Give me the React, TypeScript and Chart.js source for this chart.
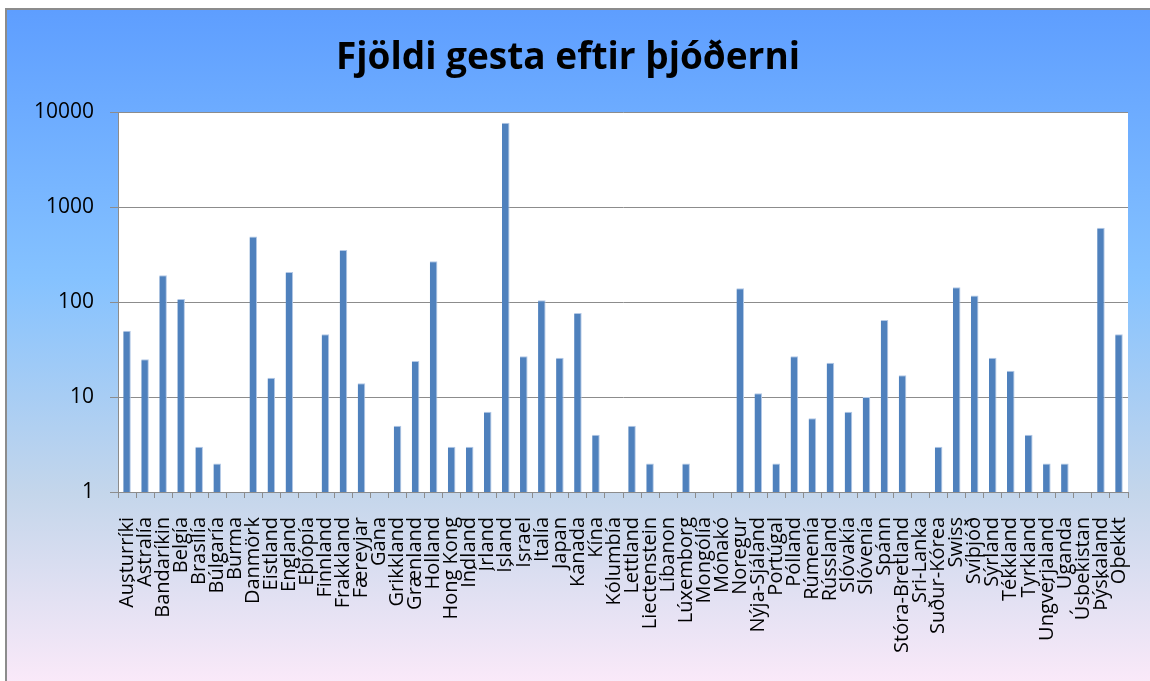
import React, { useEffect, useRef } from "react";
import { Chart, registerables } from "chart.js";

Chart.register(...registerables);

const categories = [
  "Austurríki", "Ástralía", "Bandaríkin", "Belgía", "Brasilía", "Búlgaría", "Búrma",
  "Danmörk", "Eistland", "England", "Eþíópía", "Finnland", "Frakkland", "Færeyjar",
  "Gana", "Grikkland", "Grænland", "Holland", "Hong Kong", "Indland", "Írland",
  "Ísland", "Ísrael", "Ítalía", "Japan", "Kanada", "Kína", "Kólumbía", "Lettland",
  "Liectenstein", "Líbanon", "Lúxemborg", "Mongólía", "Mónakó", "Noregur",
  "Nýja-Sjáland", "Portúgal", "Pólland", "Rúmenía", "Rússland", "Slóvakía",
  "Slóvenía", "Spánn", "Stóra-Bretland", "Sri-Lanka", "Suður-Kórea", "Swiss",
  "Svíþjóð", "Sýrland", "Tékkland", "Tyrkland", "Ungverjaland", "Úganda",
  "Úsbekistan", "Þýskaland", "Óþekkt",
];

const visitors: (number | null)[] = [
  50, 25, 192, 108, 3, 2, null,
  492, 16, 208, null, 46, 355, 14,
  null, 5, 24, 270, 3, 3, 7,
  7800, 27, 105, 26, 77, 4, null, 5,
  2, null, 2, null, null, 140,
  11, 2, 27, 6, 23, 7,
  10, 65, 17, null, 3, 144,
  118, 26, 19, 4, 2, 2,
  null, 610, 46,
];

const yTicks = [1, 10, 100, 1000, 10000];
const chartTitle = "Fjöldi gesta eftir þjóðerni";

const plotBg = {
  id: "plotBg",
  beforeDraw(chart: any) {
    const { ctx, chartArea } = chart;
    ctx.save();
    ctx.fillStyle = "#ffffff";
    ctx.fillRect(chartArea.left, chartArea.top, chartArea.right - chartArea.left, chartArea.bottom - chartArea.top);
    ctx.restore();
  },
};

export default function App() {
  const ref = useRef<HTMLCanvasElement | null>(null);

  useEffect(() => {
    if (!ref.current) return;
    const chart = new Chart(ref.current, {
      type: "bar",
      data: {
        labels: categories,
        datasets: [
          {
            data: visitors,
            backgroundColor: "#4f81bd",
            borderColor: "#b4c9e6",
            borderWidth: { left: 0, right: 1, top: 1, bottom: 0 },
            barPercentage: 1,
            categoryPercentage: 0.42,
          },
        ],
      },
      options: {
        responsive: false,
        animation: false,
        devicePixelRatio: 1,
        layout: { padding: { left: 8, right: 22, top: 0, bottom: 0 } },
        plugins: {
          legend: { display: false },
          tooltip: { enabled: false },
          title: {
            display: true,
            text: chartTitle,
            color: "#000000",
            font: { family: "'Open Sans', sans-serif", size: 37, weight: "bold", lineHeight: 1.2 },
            padding: { top: 36, bottom: 32 },
          },
        },
        scales: {
          x: {
            grid: {
              display: true,
              drawOnChartArea: false,
              drawTicks: true,
              tickLength: 6,
              color: "#8c8c8c",
              offset: true,
            },
            border: { display: true, color: "#8c8c8c" },
            ticks: {
              autoSkip: false,
              maxRotation: 90,
              minRotation: 90,
              padding: 19,
              color: "#000000",
              font: { family: "'Open Sans', sans-serif", size: 20 },
            },
            afterFit(scale: any) {
              scale.height = 189;
              scale.paddingLeft = 0;
              scale.paddingRight = 0;
            },
          },
          y: {
            type: "logarithmic",
            min: 1,
            max: 10000,
            grid: { color: "#8c8c8c", tickLength: 8 },
            border: { display: true, color: "#8c8c8c" },
            ticks: {
              padding: 16,
              color: "#000000",
              font: { family: "'Open Sans', sans-serif", size: 21 },
              callback: (v: any) => String(v),
            },
            afterBuildTicks(scale: any) {
              scale.ticks = yTicks.map((v) => ({ value: v }));
            },
            afterFit(scale: any) {
              scale.width = 110;
            },
          },
        },
      },
      plugins: [plotBg],
    });
    return () => chart.destroy();
  }, []);

  return (
    <div style={{ position: "fixed", left: 0, top: 0, width: 1150, height: 681, overflow: "hidden", background: "#ffffff" }}>
      <div
        style={{
          position: "absolute",
          left: 5,
          top: 8,
          width: 1160,
          height: 690,
          borderLeft: "2px solid #8c8c8c",
          borderTop: "2px solid #8c8c8c",
          background: "linear-gradient(to bottom, #5E9EFF 0%, #85C2FF 39%, #C4D6EB 70%, #FFEBFA 100%)",
        }}
      />
      <canvas ref={ref} width={1150} height={681} style={{ position: "absolute", left: 0, top: 0 }} />
    </div>
  );
}
